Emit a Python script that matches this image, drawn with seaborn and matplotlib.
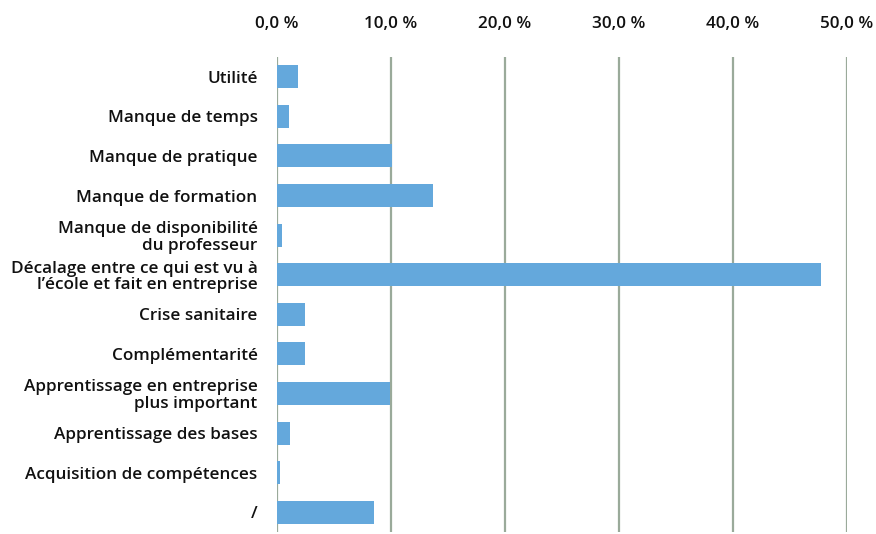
import matplotlib
matplotlib.use("Agg")
import matplotlib.pyplot as plt
import seaborn as sns
import pandas as pd
from matplotlib.ticker import FuncFormatter

categories = [
    "Utilité",
    "Manque de temps",
    "Manque de pratique",
    "Manque de formation",
    "Manque de disponibilité\ndu professeur",
    "Décalage entre ce qui est vu à\nl’école et fait en entreprise",
    "Crise sanitaire",
    "Complémentarité",
    "Apprentissage en entreprise\nplus important",
    "Apprentissage des bases",
    "Acquisition de compétences",
    "/",
]
values = [1.84, 1.05, 10.1, 13.7, 0.44, 47.7, 2.46, 2.46, 9.9, 1.14, 0.26, 8.5]
xticks = [0, 10, 20, 30, 40, 50]

df = pd.DataFrame({"cat": categories, "val": values})

sns.set_theme(style="white")
plt.rcParams["font.family"] = ["Open Sans", "DejaVu Sans"]

fig = plt.figure(figsize=(8.76, 5.34), dpi=100)
ax = fig.add_axes([277 / 876, 1 - 532 / 534, (847 - 277) / 876, (532 - 57) / 534])

sns.barplot(data=df, y="cat", x="val", orient="h", color="#64A8DC",
            saturation=1, width=0.58, linewidth=0, ax=ax, zorder=3)

ax.set_xlim(0, 50)
ax.set_xticks(xticks)
ax.xaxis.set_major_formatter(FuncFormatter(lambda v, p: f"{v:.1f} %".replace(".", ",")))
ax.xaxis.tick_top()
ax.grid(axis="x", color="#9AAA9A", linewidth=1.6, zorder=0)
ax.grid(axis="y", visible=False)
for s in ax.spines.values():
    s.set_visible(False)
ax.tick_params(axis="x", length=0, pad=18, labelsize=12.3)
ax.tick_params(axis="y", length=0, pad=14, labelsize=12.3)
for t in ax.get_xticklabels() + ax.get_yticklabels():
    t.set_fontweight("semibold")
    t.set_color("#111111")
for t in ax.get_yticklabels():
    t.set_multialignment("right")
    t.set_linespacing(1.05)
ax.set_xlabel("")
ax.set_ylabel("")

fig.savefig("out.png", dpi=100)
